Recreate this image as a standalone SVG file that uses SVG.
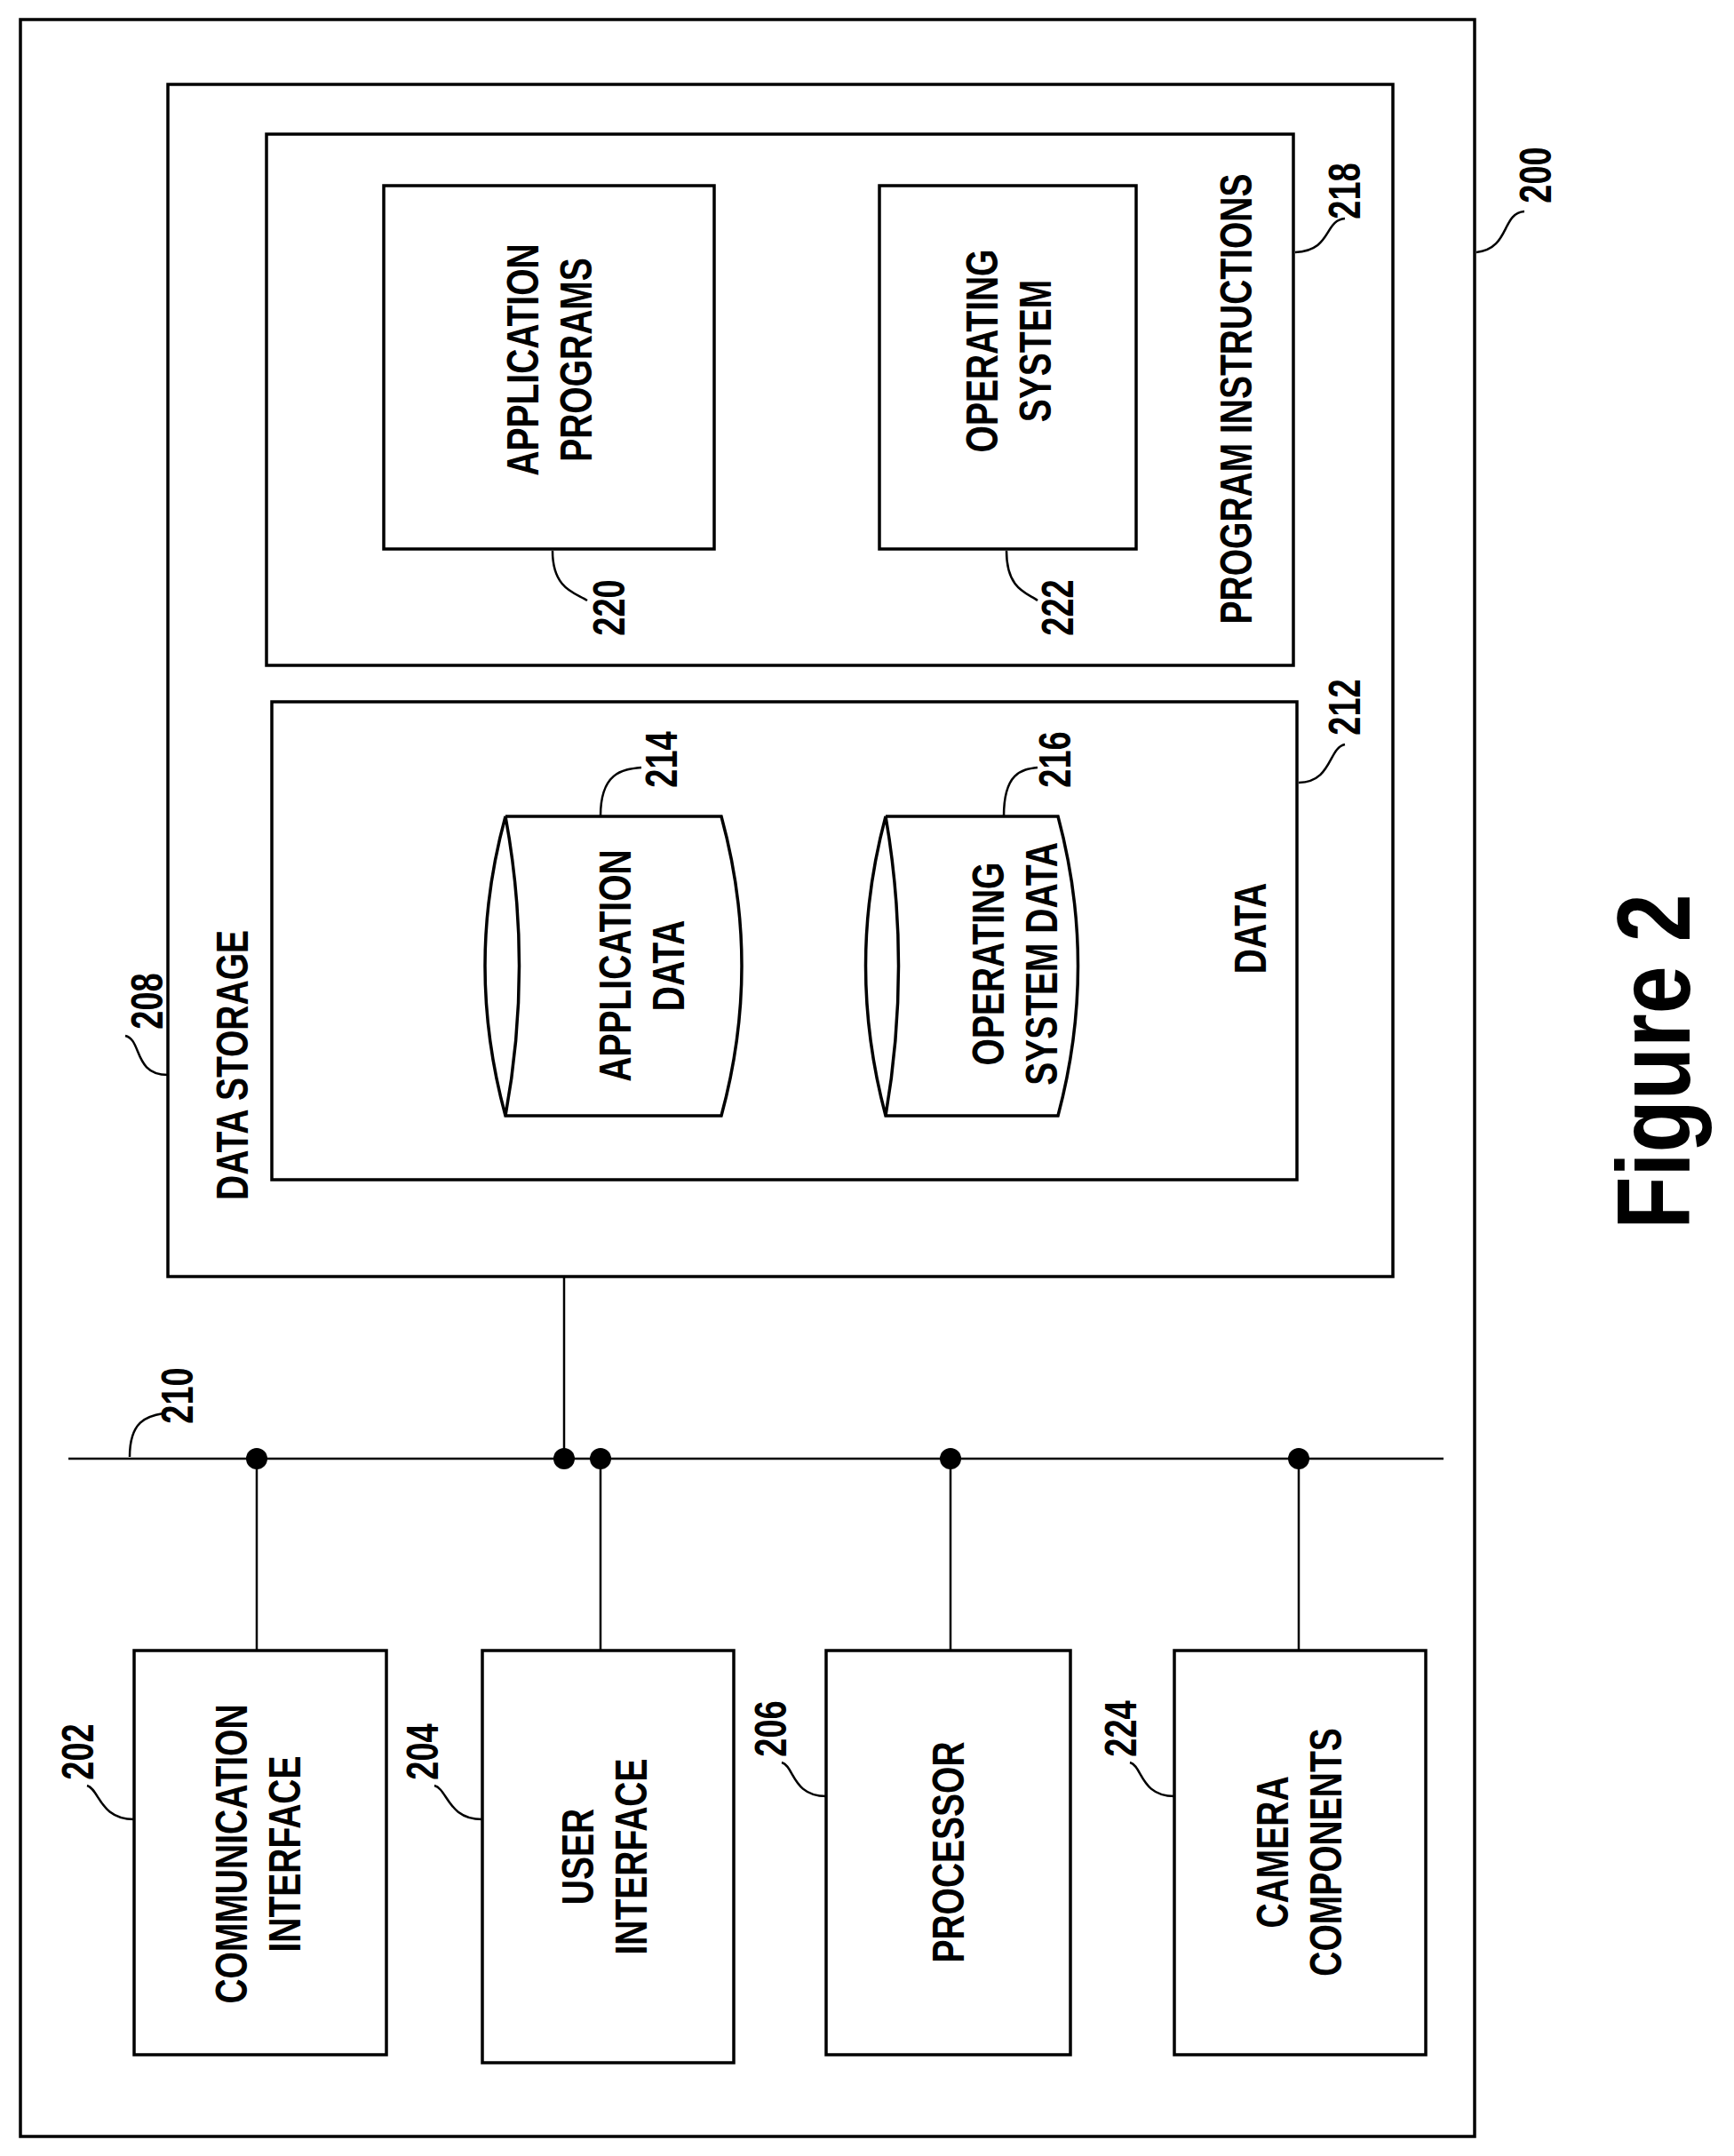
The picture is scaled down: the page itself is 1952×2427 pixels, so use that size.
<svg xmlns="http://www.w3.org/2000/svg" width="1952" height="2427" viewBox="0 0 1952 2427">
<style>
.b{fill:none;stroke:#000;stroke-width:3.5}
.l{fill:none;stroke:#000;stroke-width:2.5}
text{font-family:"Liberation Sans",Arial,sans-serif;font-weight:bold;fill:#000;text-anchor:middle;dominant-baseline:central}
.t{font-size:39px}
.n{font-size:38px}
</style>
<rect width="1952" height="2427" fill="#fff"/>
<g id="n200"><rect class="b" x="23" y="22" width="1637" height="2383"/>
<path class="l" d="M1662,284 C1700,280 1690,240 1716,238"/>
<text class="n" transform="translate(1729,197) rotate(-90) scale(1,1.3)">200</text></g>
<g id="n208"><rect class="b" x="189" y="95" width="1379" height="1342"/>
<text class="t" transform="translate(262,1199) rotate(-90) scale(1,1.3)">DATA STORAGE</text>
<path class="l" d="M189,1210 C150,1210 160,1170 141,1166"/>
<text class="n" transform="translate(166,1127) rotate(-90) scale(1,1.3)">208</text></g>
<g id="n218"><rect class="b" x="300" y="151" width="1156" height="598"/>
<text class="t" transform="translate(1392,449) rotate(-90) scale(1,1.3)">PROGRAM INSTRUCTIONS</text>
<path class="l" d="M1458,284 C1500,282 1490,248 1514,246"/>
<text class="n" transform="translate(1514,215) rotate(-90) scale(1,1.3)">218</text></g>
<g id="n220"><rect class="b" x="432" y="209" width="372" height="409"/>
<text class="t" transform="translate(588,405) rotate(-90) scale(1,1.3)"><tspan x="0" dy="0">APPLICATION</tspan><tspan x="0" dy="46">PROGRAMS</tspan></text>
<path class="l" d="M622,620 C622,665 650,668 661,676"/>
<text class="n" transform="translate(686,684) rotate(-90) scale(1,1.3)">220</text></g>
<g id="n222"><rect class="b" x="990" y="209" width="289" height="409"/>
<text class="t" transform="translate(1105,395) rotate(-90) scale(1,1.3)"><tspan x="0" dy="0">OPERATING</tspan><tspan x="0" dy="46">SYSTEM</tspan></text>
<path class="l" d="M1133,620 C1133,665 1158,668 1168,676"/>
<text class="n" transform="translate(1191,684) rotate(-90) scale(1,1.3)">222</text></g>
<g id="n212"><rect class="b" x="306" y="790" width="1154" height="538"/>
<text class="t" transform="translate(1408,1045) rotate(-90) scale(1,1.3)">DATA</text>
<path class="l" d="M1462,881 C1500,880 1495,842 1514,838"/>
<text class="n" transform="translate(1514,796) rotate(-90) scale(1,1.3)">212</text></g>
<g id="n214"><path class="b" d="M569,919 L812,919 Q858,1087 812,1256 L569,1256 Q523,1087 569,919 Q600,1087 569,1256"/>
<text class="t" transform="translate(692,1087) rotate(-90) scale(1,1.3)"><tspan x="0" dy="0">APPLICATION</tspan><tspan x="0" dy="46">DATA</tspan></text>
<path class="l" d="M676,919 C676,870 700,866 722,864"/>
<text class="n" transform="translate(745,855) rotate(-90) scale(1,1.3)">214</text></g>
<g id="n216"><path class="b" d="M997,919 L1191,919 Q1236,1087 1191,1256 L997,1256 Q952,1087 997,919 Q1026,1087 997,1256"/>
<text class="t" transform="translate(1112,1085) rotate(-90) scale(1,1.3)"><tspan x="0" dy="0">OPERATING</tspan><tspan x="0" dy="46">SYSTEM DATA</tspan></text>
<path class="l" d="M1130,919 C1130,870 1150,866 1168,864"/>
<text class="n" transform="translate(1188,855) rotate(-90) scale(1,1.3)">216</text></g>
<g id="n202"><rect class="b" x="151" y="1858" width="284" height="455"/>
<text class="t" transform="translate(260,2087) rotate(-90) scale(1,1.3)"><tspan x="0" dy="0">COMMUNICATION</tspan><tspan x="0" dy="46">INTERFACE</tspan></text>
<path class="l" d="M151,2048 C112,2048 112,2014 98,2010"/>
<text class="n" transform="translate(88,1972) rotate(-90) scale(1,1.3)">202</text></g>
<g id="n204"><rect class="b" x="543" y="1858" width="283" height="464"/>
<text class="t" transform="translate(650,2090) rotate(-90) scale(1,1.3)"><tspan x="0" dy="0">USER</tspan><tspan x="0" dy="46">INTERFACE</tspan></text>
<path class="l" d="M543,2048 C504,2048 504,2014 489,2010"/>
<text class="n" transform="translate(476,1972) rotate(-90) scale(1,1.3)">204</text></g>
<g id="n206"><rect class="b" x="930" y="1858" width="275" height="455"/>
<text class="t" transform="translate(1068,2085) rotate(-90) scale(1,1.3)">PROCESSOR</text>
<path class="l" d="M930,2022 C892,2022 894,1988 880,1984"/>
<text class="n" transform="translate(868,1946) rotate(-90) scale(1,1.3)">206</text></g>
<g id="n224"><rect class="b" x="1322" y="1858" width="283" height="455"/>
<text class="t" transform="translate(1432,2085) rotate(-90) scale(1,1.3)"><tspan x="0" dy="0">CAMERA</tspan><tspan x="0" dy="46">COMPONENTS</tspan></text>
<path class="l" d="M1322,2022 C1284,2022 1286,1988 1272,1984"/>
<text class="n" transform="translate(1262,1946) rotate(-90) scale(1,1.3)">224</text></g>
<g id="connectors">
<line class="l" x1="77" y1="1642" x2="1625" y2="1642"/>
<line class="l" x1="635" y1="1437" x2="635" y2="1642"/>
<line class="l" x1="289" y1="1642" x2="289" y2="1858"/>
<line class="l" x1="676" y1="1642" x2="676" y2="1858"/>
<line class="l" x1="1070" y1="1642" x2="1070" y2="1858"/>
<line class="l" x1="1462" y1="1642" x2="1462" y2="1858"/>
<g fill="#000"><circle cx="289" cy="1642" r="12"/><circle cx="635" cy="1642" r="12"/><circle cx="676" cy="1642" r="12"/><circle cx="1070" cy="1642" r="12"/><circle cx="1462" cy="1642" r="12"/></g>
<path class="l" d="M146,1640 C146,1600 165,1594 184,1591"/>
<text class="n" transform="translate(200,1571) rotate(-90) scale(1,1.3)">210</text>
</g>
<text style="font-size:97px" transform="translate(1862,1195) rotate(-90) scale(1,1.2)">Figure 2</text>
</svg>
